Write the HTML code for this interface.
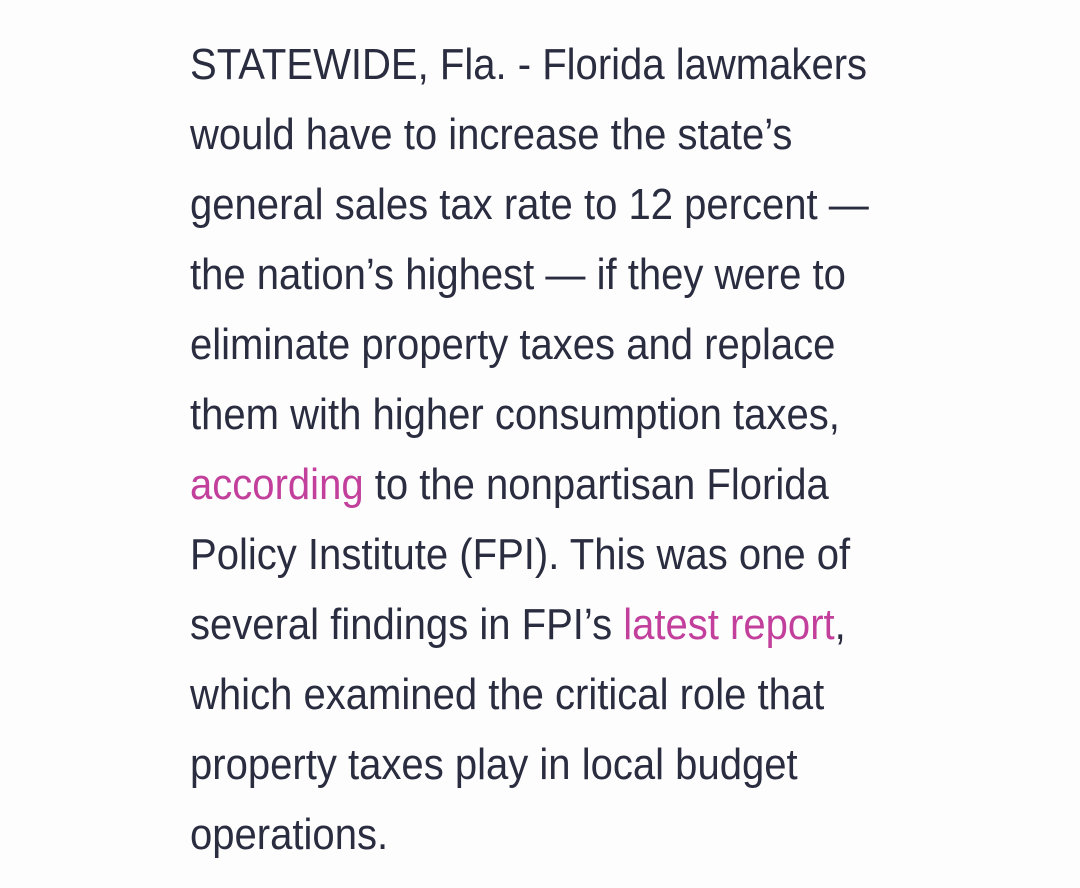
<!DOCTYPE html>
<html><head><meta charset="utf-8"><style>
html,body{margin:0;padding:0;background:#fdfdfd;width:1080px;height:888px;overflow:hidden}
.t{position:absolute;left:190px;top:30px;font-family:"Liberation Sans",sans-serif;font-size:44px;line-height:70px;color:#2a2c40;transform:scaleX(0.91);transform-origin:0 0;white-space:nowrap}
a{color:#c2409c;text-decoration:none}
</style></head><body>
<div class="t">
<div>STATEWIDE, Fla. - Florida lawmakers</div>
<div>would have to increase the state’s</div>
<div>general sales tax rate to 12 percent —</div>
<div>the nation’s highest — if they were to</div>
<div>eliminate property taxes and replace</div>
<div>them with higher consumption taxes,</div>
<div><a>according</a> to the nonpartisan Florida</div>
<div>Policy Institute (FPI). This was one of</div>
<div>several findings in FPI’s <a>latest report</a>,</div>
<div>which examined the critical role that</div>
<div>property taxes play in local budget</div>
<div>operations.</div>
</div>
</body></html>
